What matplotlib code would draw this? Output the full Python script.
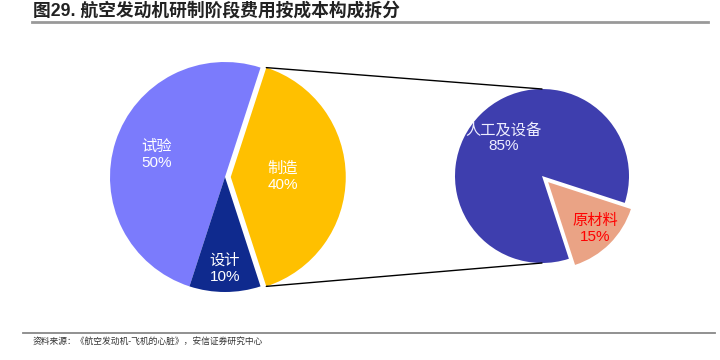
import numpy as np
import matplotlib
matplotlib.use("Agg")
import matplotlib.pyplot as plt
from matplotlib.patches import ConnectionPatch
from matplotlib.lines import Line2D

plt.rcParams['font.family'] = ['Liberation Sans', 'Noto Sans CJK SC', 'DejaVu Sans']

# stage split of development cost
stage_names = ['制造', '试验', '设计']
stage_values = [40, 50, 10]
# breakdown of manufacturing
make_names = ['原材料', '人工及设备']
make_values = [15, 85]

title = '图29. 航空发动机研制阶段费用按成本构成拆分'
source = '资料来源：《航空发动机-飞机的心脏》，安信证券研究中心'

fig = plt.figure(figsize=(7.2, 3.6), dpi=100)

def box(cx, cy, r, lim=1.2):
    s = r * lim * 2
    return [(cx - s / 2) / 720, (360 - cy - s / 2) / 360, s / 720, s / 360]

ax1 = fig.add_axes(box(225, 177, 115))
ax2 = fig.add_axes(box(542, 176, 87))

w1, _ = ax1.pie(stage_values, startangle=-72, counterclock=True,
                explode=[0.05, 0, 0],
                colors=['#FFC000', '#7B7BFC', '#0F2A8E'])
w2, _ = ax2.pie(make_values, startangle=-72, counterclock=True,
                explode=[0.1, 0],
                colors=['#EAA385', '#3E3EAE'])

def put_labels(ax, wedges, names, values, dists, colors):
    for w, n, v, d, c in zip(wedges, names, values, dists, colors):
        a = np.deg2rad((w.theta1 + w.theta2) / 2)
        x = w.center[0] + d * np.cos(a)
        y = w.center[1] + d * np.sin(a)
        ax.text(x, y, f'{n}\n{v}%', ha='center', va='center',
                fontsize=11, color=c, linespacing=1.2)

put_labels(ax1, w1, stage_names, stage_values, [0.45, 0.63, 0.8],
           ['white', 'white', 'white'])
put_labels(ax2, w2, make_names, make_values, [0.76, 0.62],
           ['#FF0000', '#EEEEFF'])

for ax in (ax1, ax2):
    ax.set_xlim(-1.2, 1.2)
    ax.set_ylim(-1.2, 1.2)
    ax.set_aspect('equal')
    ax.axis('off')

# connector lines from the 制造 wedge to the breakdown pie
wm = w1[0]
for theta, ytarget in [(wm.theta2, 1), (wm.theta1, -1)]:
    t = np.deg2rad(theta)
    p = (wm.center[0] + wm.r * np.cos(t), wm.center[1] + wm.r * np.sin(t))
    con = ConnectionPatch(xyA=(0, ytarget), coordsA=ax2.transData,
                          xyB=p, coordsB=ax1.transData,
                          color='black', linewidth=1)
    fig.add_artist(con)

fig.text(33 / 720, 1 - 11 / 360, title, fontsize=12.8, fontweight='bold',
         color='#222222', ha='left', va='center')
fig.add_artist(Line2D([32 / 720, 708 / 720], [1 - 22 / 360] * 2,
                      color='#999999', linewidth=2))
fig.add_artist(Line2D([23 / 720, 715 / 720], [1 - 333 / 360] * 2,
                      color='#888888', linewidth=1.3))
fig.text(33 / 720, 1 - 341 / 360, source, fontsize=6.3, color='#333333',
         ha='left', va='center')

fig.savefig('out.png', dpi=100)
